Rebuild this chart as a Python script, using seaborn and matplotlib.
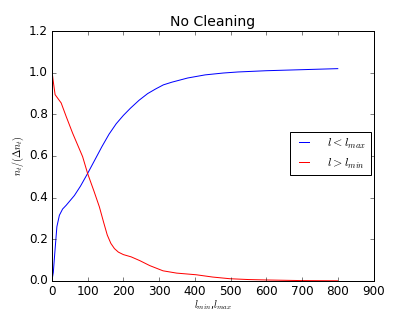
import matplotlib
matplotlib.use("Agg")
import matplotlib.pyplot as plt
import seaborn as sns
import pandas as pd

# values
x_below = [0, 4, 8, 14, 21, 30, 40, 63, 80, 100, 123, 140, 160, 180, 200, 220, 244, 268,
           290, 312, 336, 380, 429, 480, 521, 600, 700, 800]
y_below = [0.0, 0.04, 0.13, 0.26, 0.315, 0.345, 0.363, 0.41, 0.455, 0.516, 0.59, 0.645,
           0.705, 0.755, 0.795, 0.83, 0.868, 0.9, 0.922, 0.942, 0.955, 0.975, 0.99, 0.999,
           1.004, 1.01, 1.015, 1.02]

x_above = [0, 3, 9, 26, 40, 58, 86, 100, 118, 133, 145, 155, 165, 175, 186, 200, 222, 246,
           274, 311, 349, 404, 450, 498, 550, 600, 700, 800]
y_above = [1.016, 0.97, 0.895, 0.855, 0.79, 0.71, 0.597, 0.516, 0.43, 0.355, 0.28, 0.22,
           0.18, 0.155, 0.138, 0.126, 0.115, 0.097, 0.073, 0.048, 0.037, 0.029, 0.018,
           0.01, 0.006, 0.004, 0.001, 0.0]

df_below = pd.DataFrame({"l": x_below, "n": y_below})
df_above = pd.DataFrame({"l": x_above, "n": y_above})

plt.style.use("classic")
plt.rcParams["figure.facecolor"] = "white"
plt.rcParams["font.family"] = ["DejaVu Sans"]

fig, ax = plt.subplots(figsize=(415 / 72, 312 / 72), dpi=72)
fig.subplots_adjust(left=0.125, right=0.9, bottom=0.1, top=0.9)

sns.lineplot(data=df_below, x="l", y="n", color="b", ax=ax)
sns.lineplot(data=df_above, x="l", y="n", color="r", ax=ax)

ax.set_xlim(0, 900)
ax.set_ylim(0, 1.2)
ax.set_title("No Cleaning", fontsize=14)
ax.set_xlabel(r"$l_{min}$,$l_{max}$", fontsize=10, labelpad=0)
ax.set_ylabel(r"$n_t/(\Delta n_t)$", fontsize=10, labelpad=3)
ax.tick_params(labelsize=12)
ax.legend(ax.lines[:2], [r"$l < l_{max}$", r"$l > l_{min}$"],
          loc="center right", bbox_to_anchor=(1.0, 0.51), borderaxespad=0.2,
          fontsize=12, handlelength=1.5, handletextpad=1.2, frameon=True)

fig.savefig("out.png", dpi=72, facecolor="white")
